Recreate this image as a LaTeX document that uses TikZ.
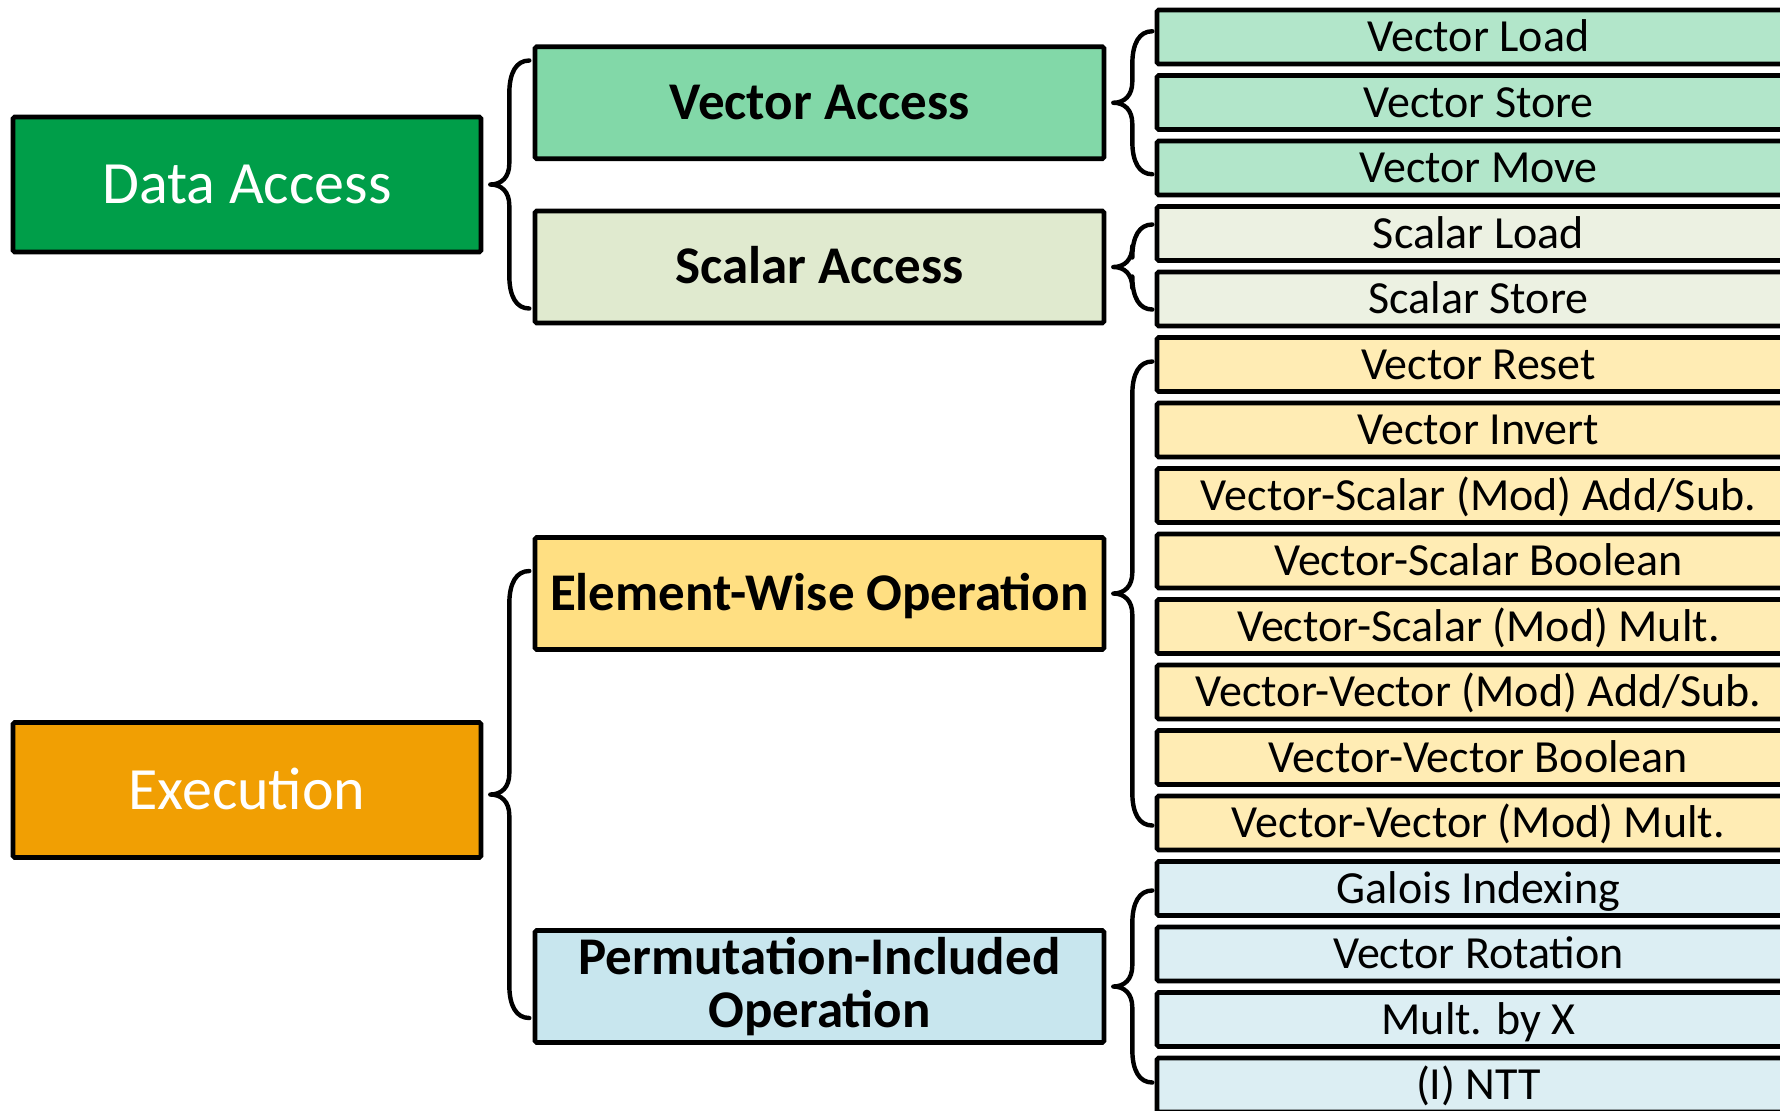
\documentclass[tikz,border=0pt]{standalone}
\usepackage{fontspec}
\setmainfont{Carlito}

\definecolor{dagreen}{HTML}{009E49}
\definecolor{exorange}{HTML}{F19F03}
\definecolor{vacc}{HTML}{82D8A8}
\definecolor{sacc}{HTML}{E0EACF}
\definecolor{elem}{HTML}{FFDF82}
\definecolor{perm}{HTML}{C8E6EE}
\definecolor{vrow}{HTML}{B2E6CA}
\definecolor{srow}{HTML}{ECF1E2}
\definecolor{erow}{HTML}{FFECB4}
\definecolor{prow}{HTML}{DCEEF3}

% curly brace opening from a parent box towards its children
% #1 parent node, #2 half height, #3 vertical offset of the tip
\newcommand{\grpbrace}[3]{%
  \begin{scope}[shift={(#1.east)}, shift={(0,#3)}]
    \draw[bracestyle] (46,-#2) .. controls (33,-#2) and (26,{-#2+12}) .. (26,{-#2+33})
      -- (26,-21) .. controls (26,-7) and (18,0) .. (7,0)
      .. controls (18,0) and (26,7) .. (26,21)
      -- (26,{#2-33}) .. controls (26,{#2-12}) and (33,#2) .. (46,#2);
  \end{scope}}

\begin{document}
\begin{tikzpicture}[x=0.5pt, y=-0.5pt,
  box/.style={draw=black, line width=2.3pt, rounded corners=0.8pt, inner sep=0pt},
  catbox/.style={box, minimum width=234pt, minimum height=67.5pt,
    font=\fontsize{30}{36}\selectfont, text=white, text height=19pt, text depth=0pt},
  subbox/.style={box, minimum width=284.5pt, minimum height=56pt,
    font=\fontsize{26.5}{26.25}\selectfont\bfseries},
  onebox/.style={subbox, text height=16.75pt, text depth=0pt},
  opbox/.style={box, minimum width=321.5pt, minimum height=27pt,
    font=\fontsize{23}{27}\selectfont, text height=14.5pt, text depth=0pt},
  bracestyle/.style={draw=black, line width=2.2pt, line cap=round, line join=round}]

\fill[white] (0,0) rectangle (1780,1110);
\useasboundingbox (0,0) rectangle (1780,1110);

% top level categories
\node[catbox, fill=dagreen] (da) at (247,184.5) {Data Access};
\node[catbox, fill=exorange] (ex) at (247,790) {Execution};

% second level
\node[onebox, fill=vacc] (va) at (819.5,102.75) {Vector Access};
\node[onebox, fill=sacc] (sa) at (819.5,267) {Scalar Access};
\node[onebox, fill=elem] (ew) at (819.5,593.5) {Element-Wise Operation};
\node[subbox, fill=perm, align=center] (pi) at (819.5,986.5) {Permutation-Included\\Operation};

% operations, one row each
\node[opbox, fill=vrow] (r0)  at (1478.5,37)     {Vector Load};
\node[opbox, fill=vrow] (r1)  at (1478.5,102.5)  {Vector Store};
\node[opbox, fill=vrow] (r2)  at (1478.5,168)    {Vector Move};
\node[opbox, fill=srow] (r3)  at (1478.5,233.5)  {Scalar Load};
\node[opbox, fill=srow] (r4)  at (1478.5,299)    {Scalar Store};
\node[opbox, fill=erow] (r5)  at (1478.5,364.5)  {Vector Reset};
\node[opbox, fill=erow] (r6)  at (1478.5,430)    {Vector Invert};
\node[opbox, fill=erow] (r7)  at (1478.5,495.5)  {Vector-Scalar (Mod) Add/Sub.};
\node[opbox, fill=erow] (r8)  at (1478.5,561)    {Vector-Scalar Boolean};
\node[opbox, fill=erow] (r9)  at (1478.5,626.5)  {Vector-Scalar (Mod) Mult.};
\node[opbox, fill=erow] (r10) at (1478.5,692)    {Vector-Vector (Mod) Add/Sub.};
\node[opbox, fill=erow] (r11) at (1478.5,757.5)  {Vector-Vector Boolean};
\node[opbox, fill=erow] (r12) at (1478.5,823)    {Vector-Vector (Mod) Mult.};
\node[opbox, fill=prow] (r13) at (1478.5,888.5)  {Galois Indexing};
\node[opbox, fill=prow] (r14) at (1478.5,954)    {Vector Rotation};
\node[opbox, fill=prow] (r15) at (1478.5,1019.5) {Mult. by X};
\node[opbox, fill=prow] (r16) at (1478.5,1085)   {(I) NTT};

% braces grouping the children of each box
\grpbrace{da}{124}{0}
\grpbrace{ex}{223.5}{4.5}
\grpbrace{va}{71.5}{0}
\grpbrace{sa}{42.5}{0}
\grpbrace{ew}{232}{0}
\grpbrace{pi}{96}{0}

\end{tikzpicture}
\end{document}
